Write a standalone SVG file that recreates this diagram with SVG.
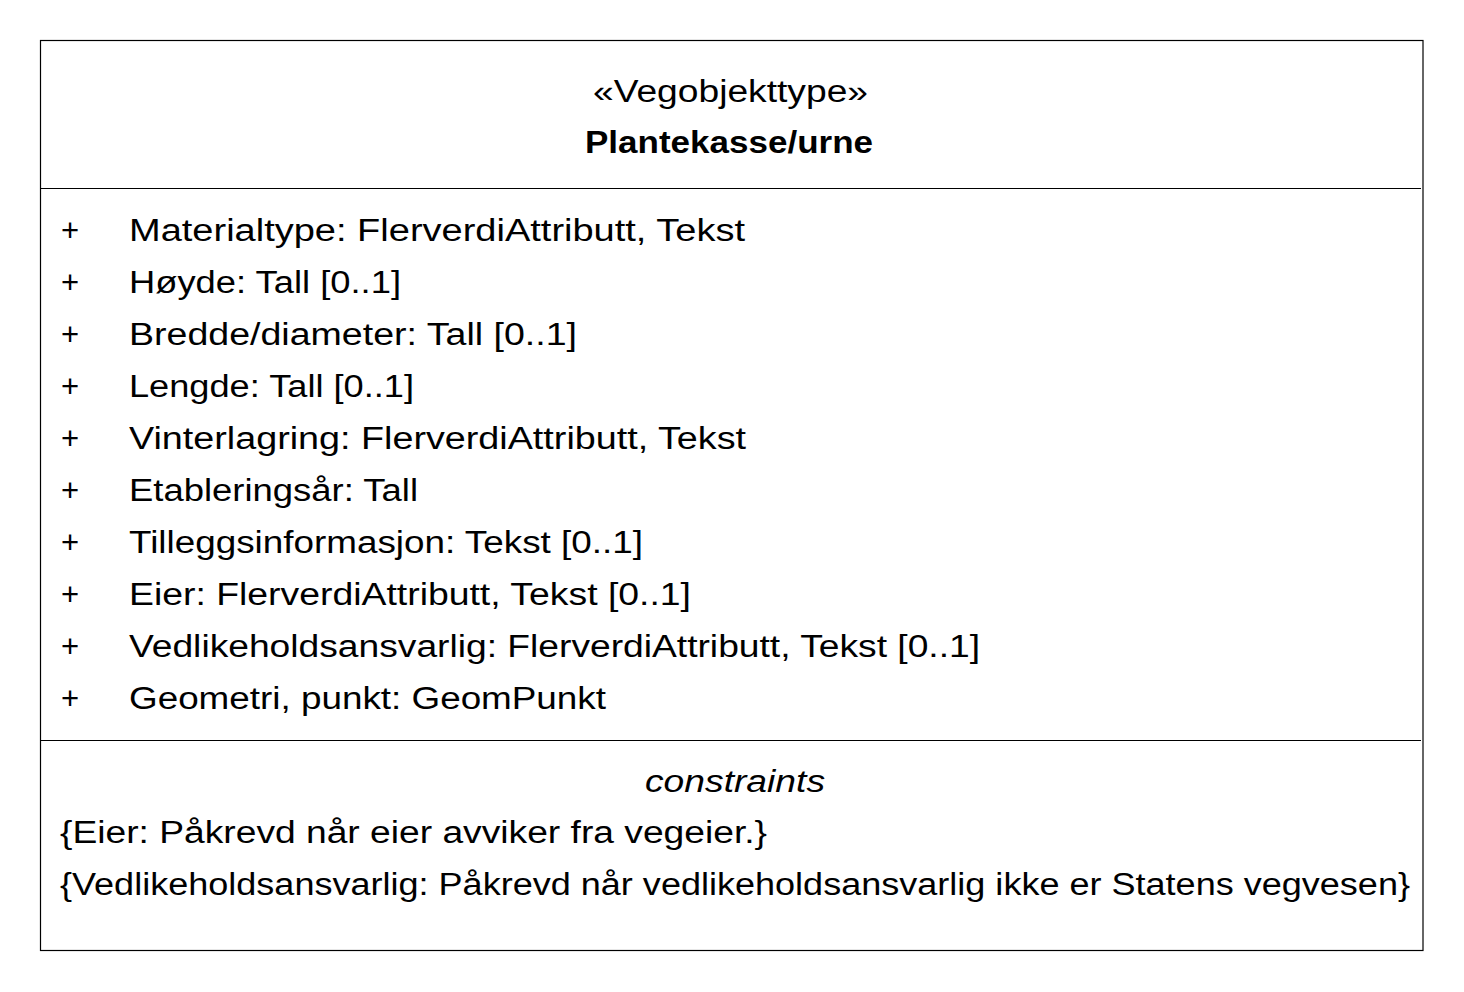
<svg xmlns="http://www.w3.org/2000/svg" width="1464" height="992" viewBox="0 0 1464 992">
<style>
text{font-family:"Liberation Sans",Arial,sans-serif;font-size:31px;fill:#000}
.b{font-weight:bold}
.i{font-style:italic}
.ln{stroke:#000;stroke-width:1.2;fill:none}
</style>
<rect width="1464" height="992" fill="#fff"/>
<g id="class-plantekasse">
<rect class="ln" x="40.5" y="40.5" width="1382.5" height="910"/>
<line class="ln" x1="40.5" y1="188.5" x2="1421" y2="188.5"/>
<line class="ln" x1="40.5" y1="740.5" x2="1421" y2="740.5"/>
<text x="593" y="102" textLength="275" lengthAdjust="spacingAndGlyphs">«Vegobjekttype»</text>
<text class="b" x="585" y="153" textLength="288" lengthAdjust="spacingAndGlyphs">Plantekasse/urne</text>
<g>
<text x="61" y="241">+</text>
<text x="129" y="241" textLength="616" lengthAdjust="spacingAndGlyphs">Materialtype: FlerverdiAttributt, Tekst</text>
<text x="61" y="293">+</text>
<text x="129" y="293" textLength="272" lengthAdjust="spacingAndGlyphs">Høyde: Tall [0..1]</text>
<text x="61" y="345">+</text>
<text x="129" y="345" textLength="448" lengthAdjust="spacingAndGlyphs">Bredde/diameter: Tall [0..1]</text>
<text x="61" y="397">+</text>
<text x="129" y="397" textLength="285" lengthAdjust="spacingAndGlyphs">Lengde: Tall [0..1]</text>
<text x="61" y="449">+</text>
<text x="129" y="449" textLength="617" lengthAdjust="spacingAndGlyphs">Vinterlagring: FlerverdiAttributt, Tekst</text>
<text x="61" y="501">+</text>
<text x="129" y="501" textLength="289" lengthAdjust="spacingAndGlyphs">Etableringsår: Tall</text>
<text x="61" y="553">+</text>
<text x="129" y="553" textLength="514" lengthAdjust="spacingAndGlyphs">Tilleggsinformasjon: Tekst [0..1]</text>
<text x="61" y="605">+</text>
<text x="129" y="605" textLength="562" lengthAdjust="spacingAndGlyphs">Eier: FlerverdiAttributt, Tekst [0..1]</text>
<text x="61" y="657">+</text>
<text x="129" y="657" textLength="851" lengthAdjust="spacingAndGlyphs">Vedlikeholdsansvarlig: FlerverdiAttributt, Tekst [0..1]</text>
<text x="61" y="709">+</text>
<text x="129" y="709" textLength="477" lengthAdjust="spacingAndGlyphs">Geometri, punkt: GeomPunkt</text>
</g>
<text class="i" x="645" y="792" textLength="180" lengthAdjust="spacingAndGlyphs">constraints</text>
<text x="60" y="843" textLength="707" lengthAdjust="spacingAndGlyphs">{Eier: Påkrevd når eier avviker fra vegeier.}</text>
<text x="60" y="895" textLength="1350" lengthAdjust="spacingAndGlyphs">{Vedlikeholdsansvarlig: Påkrevd når vedlikeholdsansvarlig ikke er Statens vegvesen}</text>
</g>
<g id="connectors"/>
</svg>
